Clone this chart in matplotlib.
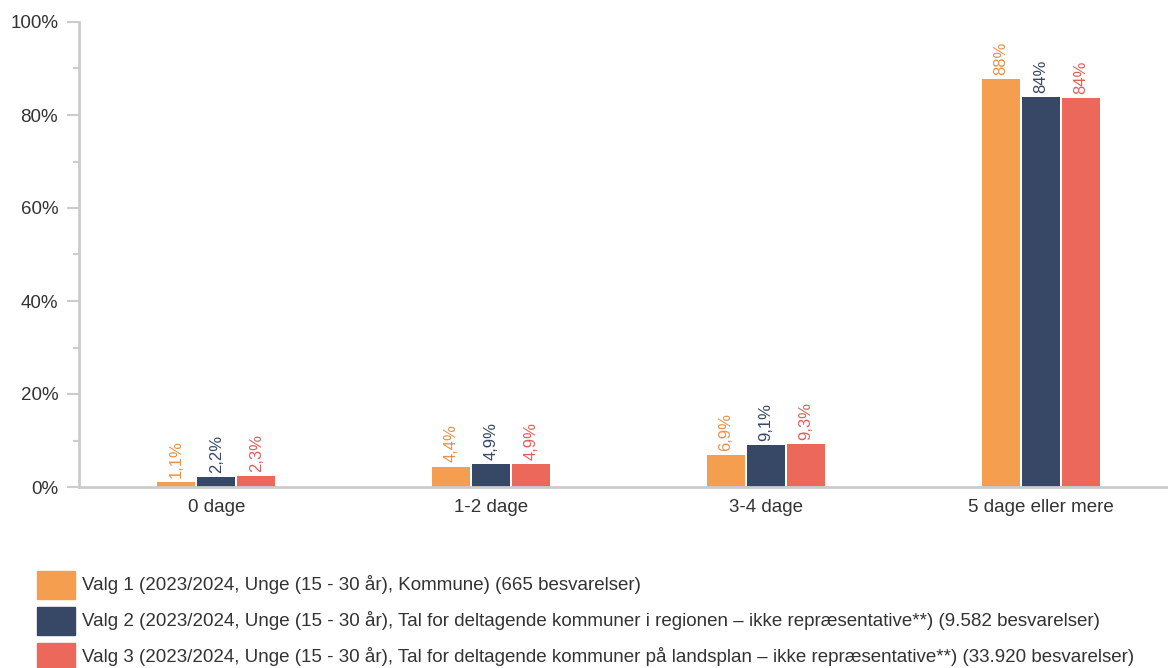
import matplotlib
matplotlib.use("Agg")
import matplotlib.pyplot as plt
from matplotlib.patches import Rectangle
import numpy as np

plt.rcParams['font.family'] = ['Liberation Sans', 'DejaVu Sans']

categories = ["0 dage", "1-2 dage", "3-4 dage", "5 dage eller mere"]
valg1 = [1.1, 4.4, 6.9, 87.8]
valg2 = [2.2, 4.9, 9.1, 83.9]
valg3 = [2.3, 4.9, 9.3, 83.6]
labels1 = ["1,1%", "4,4%", "6,9%", "88%"]
labels2 = ["2,2%", "4,9%", "9,1%", "84%"]
labels3 = ["2,3%", "4,9%", "9,3%", "84%"]
series_names = [
    "Valg 1 (2023/2024, Unge (15 - 30 år), Kommune) (665 besvarelser)",
    "Valg 2 (2023/2024, Unge (15 - 30 år), Tal for deltagende kommuner i regionen – ikke repræsentative**) (9.582 besvarelser)",
    "Valg 3 (2023/2024, Unge (15 - 30 år), Tal for deltagende kommuner på landsplan – ikke repræsentative**) (33.920 besvarelser)",
]
colors = ["#F59E4F", "#374766", "#EB685A"]
text_colors = ["#E8914A", "#374766", "#E0605A"]

W, H = 1168, 668
fig = plt.figure(figsize=(W / 100, H / 100), dpi=100)
ax = fig.add_axes([79 / W, 1 - 487 / H, (1178 - 79) / W, (487 - 22) / H])

x = np.arange(len(categories))
off = 40 / 275
bw = 38 / 275
grey = "#CCCCCC"
for i, (vals, labs) in enumerate(zip([valg1, valg2, valg3], [labels1, labels2, labels3])):
    pos = x + (i - 1) * off
    ax.bar(pos, vals, width=bw, color=colors[i], zorder=2)
    for p, v, l in zip(pos, vals, labs):
        ax.annotate(l, (p, v), xytext=(0, 3), textcoords="offset points",
                    rotation=90, ha="center", va="bottom", fontsize=12,
                    color=text_colors[i])

ax.set_xlim(-0.5, 3.5)
ax.set_ylim(0, 100)
ax.set_yticks([0, 20, 40, 60, 80, 100])
ax.set_yticklabels(["0%", "20%", "40%", "60%", "80%", "100%"])
ax.set_yticks([10, 30, 50, 70, 90], minor=True)
ax.set_xticks(x)
ax.set_xticklabels(categories)
ax.tick_params(axis="x", length=0, pad=9, labelsize=13.5, colors="#333333")
ax.tick_params(axis="y", which="major", length=9, width=1.5, color=grey,
               labelsize=13.5, labelcolor="#333333", pad=6)
ax.tick_params(axis="y", which="minor", length=4, width=1.5, color=grey)
for s in ["top", "right"]:
    ax.spines[s].set_visible(False)
for s in ["left", "bottom"]:
    ax.spines[s].set_color(grey)
    ax.spines[s].set_linewidth(2)
    ax.spines[s].set_zorder(3)

# legend
for i, name in enumerate(series_names):
    y0 = 571 + i * 36
    fig.patches.append(Rectangle((37 / W, 1 - (y0 + 28) / H), 38 / W, 28 / H,
                                 transform=fig.transFigure, color=colors[i]))
    fig.text(82 / W, 1 - (y0 + 14) / H, name, fontsize=13.5, color="#333333",
             va="center", ha="left")

fig.savefig("out.png", dpi=100)
